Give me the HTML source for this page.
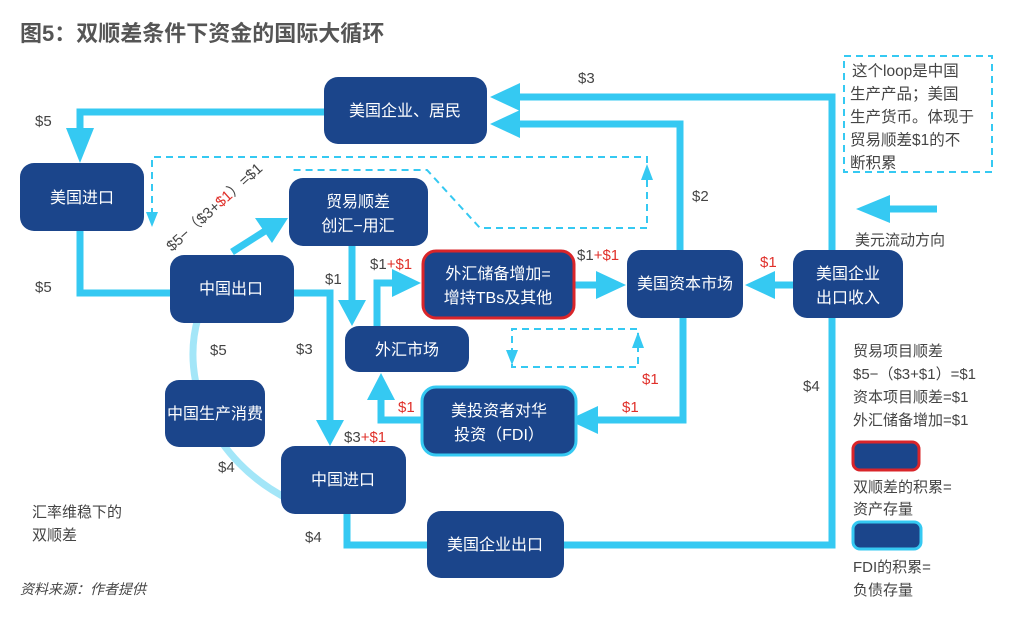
<!DOCTYPE html>
<html><head><meta charset="utf-8"><style>
body{margin:0;background:#fff;}
svg{display:block;font-family:"Liberation Sans","Noto Sans CJK SC",sans-serif;}
.n{fill:#1b458b;}
.t{fill:#fff;font-size:16px;text-anchor:middle;}
.l{fill:#444;font-size:15px;}
.r{fill:#e0302a;}
.c{stroke:#35c9f2;stroke-width:7;fill:none;}
.d{stroke:#35c9f2;stroke-width:2;fill:none;stroke-dasharray:7,5;}
.a{fill:#35c9f2;}
</style></head><body>
<svg width="1010" height="620" viewBox="0 0 1010 620">
<text x="20" y="41" style="font-size:22px;font-weight:bold;fill:#555">图5：双顺差条件下资金的国际大循环</text>

<!-- light arc -->
<path d="M198,318 C180,380 210,460 290,500" stroke="#a3e6f8" stroke-width="7" fill="none"/>

<!-- connectors -->
<path class="c" d="M324,112 H80 V135"/>
<polygon class="a" points="66,128 94,128 80,163"/>
<path class="c" d="M80,231 V293 H170"/>
<path class="c" d="M294,293 H330 V425"/>
<polygon class="a" points="316,420 344,420 330,446"/>
<path class="c" d="M347,514 V545 H427"/>
<path class="c" d="M564,545 H832 V318"/>
<path class="c" d="M832,250 V97 H515"/>
<polygon class="a" points="520,83 520,111 490,97"/>
<path class="c" d="M680,250 V124 H515"/>
<polygon class="a" points="520,110 520,138 490,124"/>
<path class="c" d="M793,285 H770"/>
<polygon class="a" points="775,271 775,299 745,285"/>
<path class="c" d="M575,285 H600"/>
<polygon class="a" points="596,271 596,299 626,285"/>
<path class="c" d="M683,318 V420 H595"/>
<polygon class="a" points="598,406 598,434 568,420"/>
<path class="c" d="M421,420 H381 V398"/>
<polygon class="a" points="367,400 395,400 381,373"/>
<path class="c" d="M352,246 V305"/>
<polygon class="a" points="338,300 366,300 352,326"/>
<path class="c" d="M377,326 V283 H395"/>
<polygon class="a" points="392,269 392,297 421,283"/>
<path class="c" d="M232,252 L265,231"/>
<polygon class="a" points="255,218 272,243 288,218"/>

<!-- dashed -->
<path class="d" d="M152,215 V157 H647 V228 H480 L427,170 H290"/>
<polygon class="a" points="146,212 158,212 152,227"/>
<polygon class="a" points="641,180 653,180 647,164"/>
<path class="d" d="M512,355 V329 H638 V367 H512 V355"/>
<polygon class="a" points="506,350 518,350 512,365"/>
<polygon class="a" points="632,348 644,348 638,332"/>
<rect x="844" y="56" width="148" height="116" class="d"/>

<!-- nodes -->
<rect class="n" x="324" y="77" width="163" height="67" rx="14"/>
<text class="t" x="405" y="116">美国企业、居民</text>
<rect class="n" x="20" y="163" width="124" height="68" rx="14"/>
<text class="t" x="82" y="203">美国进口</text>
<rect class="n" x="289" y="178" width="139" height="68" rx="14"/>
<text class="t" x="358" y="207">贸易顺差</text>
<text class="t" x="358" y="231">创汇−用汇</text>
<rect class="n" x="170" y="255" width="124" height="68" rx="14"/>
<text class="t" x="231" y="294">中国出口</text>
<rect class="n" x="423" y="251" width="151" height="67" rx="13" stroke="#d9252a" stroke-width="3"/>
<text class="t" x="498" y="279">外汇储备增加=</text>
<text class="t" x="498" y="303">增持TBs及其他</text>
<rect class="n" x="627" y="250" width="116" height="68" rx="14"/>
<text class="t" x="685" y="289">美国资本市场</text>
<rect class="n" x="793" y="250" width="110" height="68" rx="14"/>
<text class="t" x="848" y="279">美国企业</text>
<text class="t" x="848" y="303">出口收入</text>
<rect class="n" x="345" y="326" width="124" height="46" rx="14"/>
<text class="t" x="407" y="355">外汇市场</text>
<rect class="n" x="165" y="380" width="100" height="67" rx="14"/>
<text class="t" x="215" y="419">中国生产消费</text>
<rect class="n" x="422" y="387" width="154" height="68" rx="14" stroke="#35c9f2" stroke-width="3"/>
<text class="t" x="499" y="416">美投资者对华</text>
<text class="t" x="499" y="440">投资（FDI）</text>
<rect class="n" x="281" y="446" width="125" height="68" rx="14"/>
<text class="t" x="343" y="485">中国进口</text>
<rect class="n" x="427" y="511" width="137" height="67" rx="14"/>
<text class="t" x="495" y="550">美国企业出口</text>

<!-- labels -->
<text class="l" x="35" y="126">$5</text>
<text class="l" x="35" y="292">$5</text>
<text class="l" x="578" y="83">$3</text>
<text class="l" x="692" y="201">$2</text>
<text class="l" x="210" y="355">$5</text>
<text class="l" x="296" y="354">$3</text>
<text class="l" x="325" y="284">$1</text>
<text class="l" x="370" y="269">$1<tspan class="r">+$1</tspan></text>
<text class="l" x="577" y="260">$1<tspan class="r">+$1</tspan></text>
<text class="l r" x="760" y="267">$1</text>
<text class="l r" x="642" y="384">$1</text>
<text class="l r" x="622" y="412">$1</text>
<text class="l r" x="398" y="412">$1</text>
<text class="l" x="344" y="442">$3<tspan class="r">+$1</tspan></text>
<text class="l" x="218" y="472">$4</text>
<text class="l" x="305" y="542">$4</text>
<text class="l" x="803" y="391">$4</text>
<text class="l" transform="translate(172,252) rotate(-42)">$5−（$3+<tspan class="r">$1</tspan>）=$1</text>

<!-- right legend -->
<g class="l" style="font-size:15.5px">
<text x="852" y="76">这个loop是中国</text>
<text x="850" y="99">生产产品；美国</text>
<text x="850" y="122">生产货币。体现于</text>
<text x="850" y="145">贸易顺差$1的不</text>
<text x="850" y="168">断积累</text>
</g>
<path class="c" d="M937,209 H885"/>
<polygon class="a" points="890,195 890,223 856,209"/>
<text class="l" x="855" y="245">美元流动方向</text>
<text class="l" x="853" y="356">贸易项目顺差</text>
<text class="l" x="853" y="379">$5−（$3+$1）=$1</text>
<text class="l" x="853" y="402">资本项目顺差=$1</text>
<text class="l" x="853" y="425">外汇储备增加=$1</text>
<rect class="n" x="853" y="442" width="66" height="28" rx="7" stroke="#d9252a" stroke-width="3"/>
<text class="l" x="853" y="492">双顺差的积累=</text>
<text class="l" x="853" y="514">资产存量</text>
<rect class="n" x="853" y="522" width="68" height="27" rx="7" stroke="#35c9f2" stroke-width="3"/>
<text class="l" x="853" y="572">FDI的积累=</text>
<text class="l" x="853" y="595">负债存量</text>

<text class="l" x="32" y="517">汇率维稳下的</text>
<text class="l" x="32" y="540">双顺差</text>
<text class="l" x="20" y="594" style="font-size:14px;font-style:italic">资料来源：作者提供</text>
</svg>
</body></html>
